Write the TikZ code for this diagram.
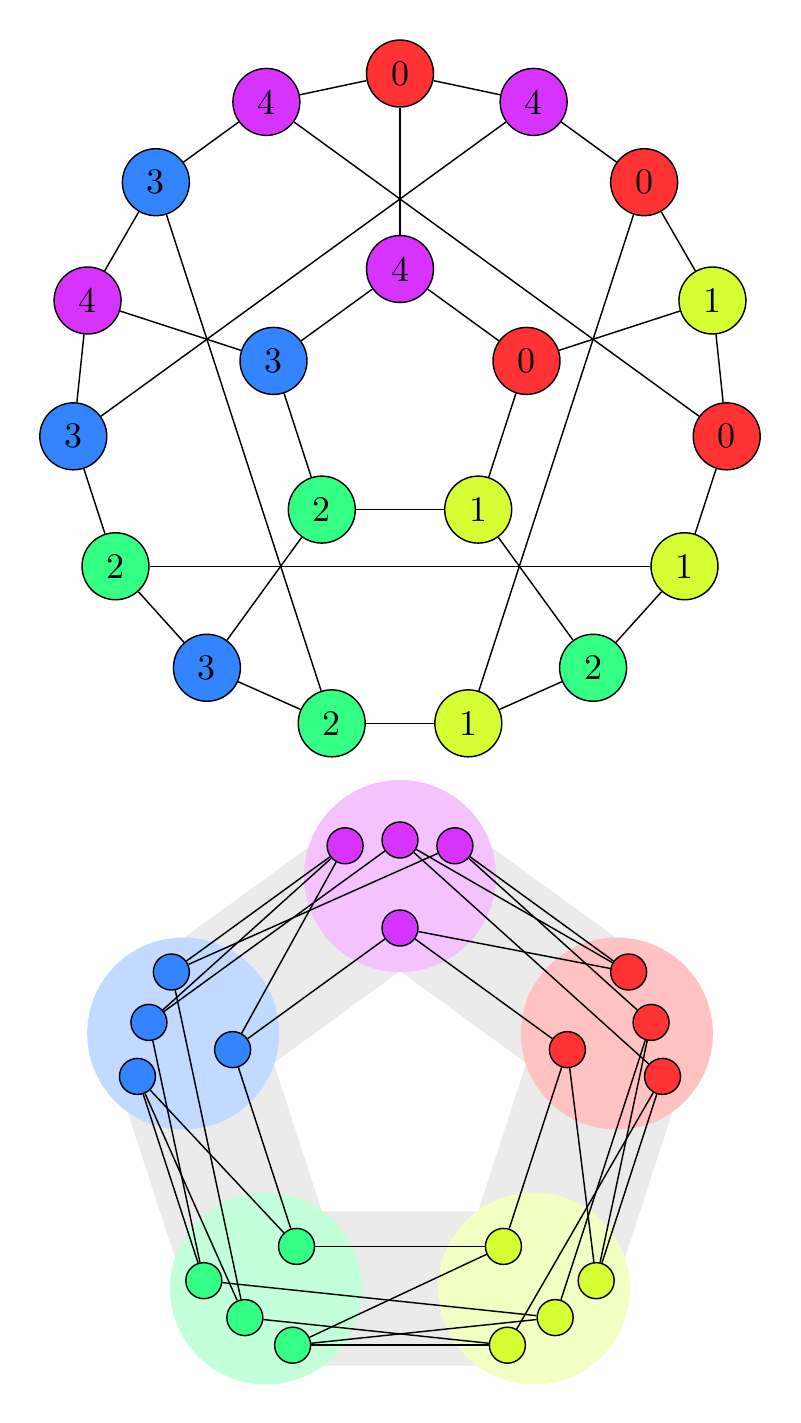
\documentclass[tikz,border=0pt]{standalone}
\usetikzlibrary{calc}
\definecolor{c0}{HTML}{FF3333}
\definecolor{c1}{HTML}{D6FF33}
\definecolor{c2}{HTML}{33FF85}
\definecolor{c3}{HTML}{3385FF}
\definecolor{c4}{HTML}{D633FF}
\definecolor{bandgray}{RGB}{235,235,235}
\pgfdeclarelayer{back}
\pgfdeclarelayer{edges}
\pgfsetlayers{back,edges,main}
\begin{document}
\begin{tikzpicture}[x=0.277778pt,y=0.277778pt,
  bignode/.style={circle,draw=black,minimum size=18.6pt,inner sep=0pt},
  smallnode/.style={circle,draw=black,minimum size=10pt,inner sep=0pt},
  band/.style={draw=bandgray,line width=42.8pt,line join=round},
  edge/.style={draw=black}]
\useasboundingbox (0,0) rectangle (800,-1423);
% ---------- top graph ----------
\coordinate (T) at (400,-402);
\foreach \k/\c in {0/0,1/4,2/3,3/4,4/3,5/2,6/3,7/2,8/1,9/2,10/1,11/0,12/1,13/0,14/4}{
  \node[bignode,fill=c\c] (o\k) at ($(T)+({90+24*\k}:328.5)$) {\c};
}
\foreach \a/\c in {90/4,162/3,234/2,306/1,18/0}{
  \node[bignode,fill=c\c] (i\a) at ($(T)+(\a:133)$) {\c};
}
\begin{pgfonlayer}{edges}
\foreach \u/\v in {o0/o1,o1/o2,o2/o3,o3/o4,o4/o5,o5/o6,o6/o7,o7/o8,o8/o9,o9/o10,o10/o11,o11/o12,o12/o13,o13/o14,o14/o0,
  o1/o11,o14/o4,o2/o7,o13/o8,o5/o10,
  o0/i90,o3/i162,o12/i18,o6/i234,o9/i306,
  i90/i18,i18/i306,i306/i234,i234/i162,i162/i90}{
  \draw[edge] (\u) -- (\v);
}
\end{pgfonlayer}
% ---------- bottom graph ----------
\coordinate (C) at (400,-1104);
\begin{pgfonlayer}{back}
\coordinate (cp) at ($(C)+(90:228)$);
\coordinate (cb) at ($(C)+(162:228)$);
\coordinate (cg) at ($(C)+(234:228)$);
\coordinate (cy) at ($(C)+(306:228)$);
\coordinate (cr) at ($(C)+(18:228)$);
\draw[band] (cp) -- (cb) -- (cg) -- (cy) -- (cr) -- cycle;
\end{pgfonlayer}
\foreach \X/\a/\c in {p/90/4,b/162/3,g/234/2,y/306/1,r/18/0}{
  \begin{pgfonlayer}{back}
    \fill[c\c!30] ($(C)+(\a:228)$) circle[radius=96];
  \end{pgfonlayer}
  \foreach \d in {-12,0,12}{
    \pgfmathtruncatemacro\ang{\a+\d}
    \node[smallnode,fill=c\c] (\X\ang) at ($(C)+(\ang:264)$) {};
  }
  \node[smallnode,fill=c\c] (\X i) at ($(C)+(\a:176)$) {};
}
\begin{pgfonlayer}{edges}
\foreach \u/\v in {p90/b162,p102/b162,p102/b150,p78/b150,p102/bi,pi/bi,
  r30/p90,p90/r6,r18/p78,p78/r30,r30/pi,pi/ri,
  b150/g234,b162/g222,b174/g234,b174/g222,b174/gi,bi/gi,
  g222/y306,y306/g246,g246/y294,g234/y294,g246/yi,yi/gi,
  y294/r6,r6/y318,y318/r18,r18/y306,y318/ri,ri/yi}{
  \draw[edge] (\u) -- (\v);
}
\end{pgfonlayer}
\end{tikzpicture}
\end{document}
